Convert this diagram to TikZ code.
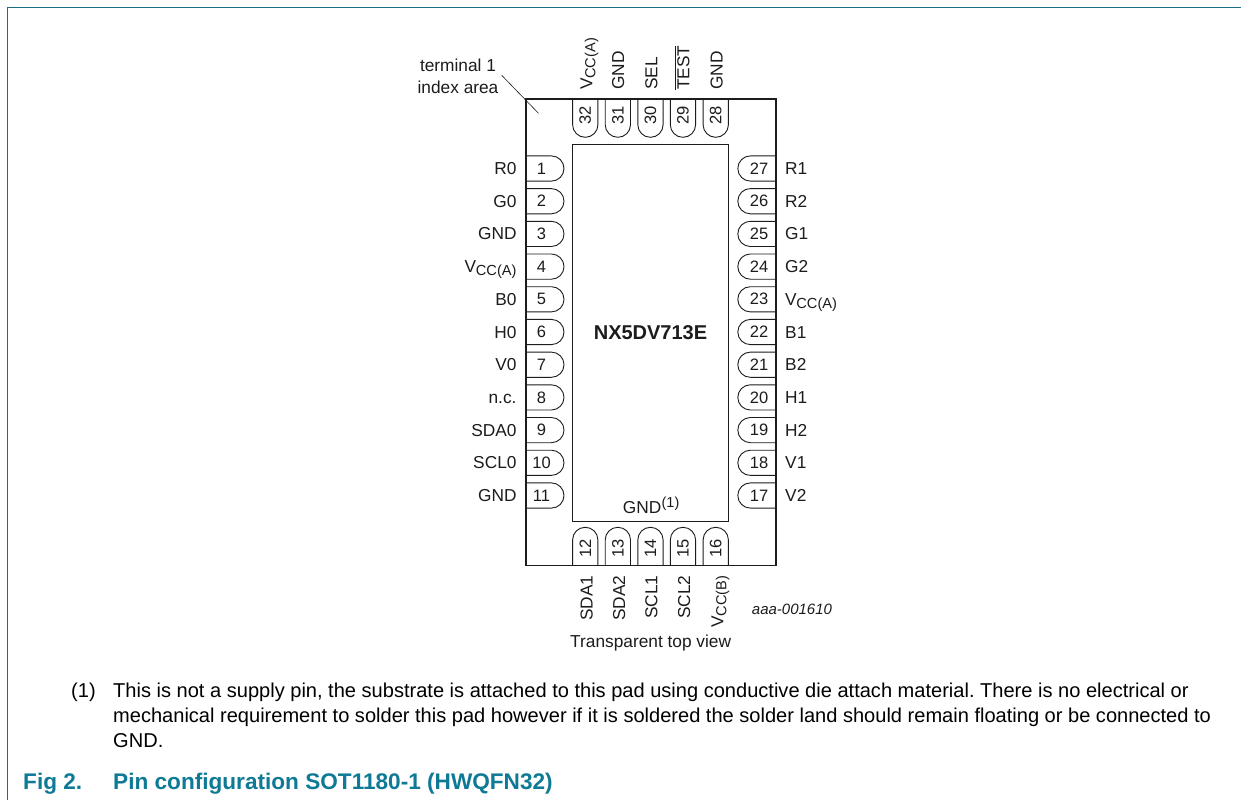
\documentclass[tikz,border=0pt]{standalone}
\usepackage{fontspec}
\setmainfont{Liberation Sans}
\definecolor{teal1}{HTML}{0F7A96}
\definecolor{frame1}{HTML}{1A6E85}
\definecolor{ink}{HTML}{1C1C1C}
\newcommand{\vcc}[1]{V\kern-0.3pt\raisebox{-3pt}{\fontsize{14.6}{15}\selectfont CC(#1)}}
\newcommand{\barred}[1]{\vbox{\hrule height 0.8pt\kern1.6pt\hbox{#1}}}
\tikzset{
 lab/.style={font=\fontsize{17.3}{20}\selectfont,text=ink,inner sep=0pt},
 leftlab/.style={lab,anchor=base east},
 rightlab/.style={lab,anchor=base west},
 toplab/.style={lab,rotate=90,anchor=base west},
 botlab/.style={lab,rotate=90,anchor=base east},
 num/.style={font=\fontsize{16.5}{18}\selectfont,text=ink,inner sep=0pt},
 body/.style={font=\fontsize{20.05}{24}\selectfont\frenchspacing,text=black,inner sep=0pt,anchor=base west},
 capt/.style={font=\fontsize{22.6}{26}\selectfont\bfseries,text=teal1,inner sep=0pt,anchor=base west},
 padline/.style={draw=ink,line width=0.9pt,rounded corners=12.6pt},
}
\begin{document}
\begin{tikzpicture}[x=1pt,y=-1pt]
\useasboundingbox (0,0) rectangle (1241,800);
\fill[white] (0,0) rectangle (1241,800);
\draw[frame1,line width=1pt] (7.5,800) -- (7.5,7.5) -- (1241,7.5);
% package and die
\draw[ink,line width=1.8pt] (525.7,99.3) rectangle (775.9,565.5);
\draw[ink,line width=0.9pt] (572.6,144) rectangle (728.8,521);
% index marker
\node[lab,align=center,font=\fontsize{17.3}{21.7}\selectfont] (idx) at (458,76.5) {terminal 1\\index area};
\coordinate (tail) at (501.7,75.3);
\coordinate (tip) at (538.5,113.3);
\draw[ink,line width=0.6pt] (tail) -- (tip);
% left pads
\foreach \n/\t in {1/R0,2/G0,3/GND,4/\vcc{A},5/B0,6/H0,7/V0,8/n.c.,9/SDA0,10/SCL0,11/GND}{
 \pgfmathsetmacro{\yy}{168.5+32.7*(\n-1)}
 \draw[padline] (526,\yy-12.6) -- (564,\yy-12.6) -- (564,\yy+12.6) -- (526,\yy+12.6);
 \node[num] (pl\n) at (541.5,\yy) {\n};
 \node[leftlab] (tl\n) at (516.7,\yy+6) {\t};
}
% right pads
\foreach \n/\i/\t in {27/0/R1,26/1/R2,25/2/G1,24/3/G2,23/4/\vcc{A},22/5/B1,21/6/B2,20/7/H1,19/8/H2,18/9/V1,17/10/V2}{
 \pgfmathsetmacro{\yy}{168.5+32.7*\i}
 \draw[padline] (776,\yy-12.6) -- (737.8,\yy-12.6) -- (737.8,\yy+12.6) -- (776,\yy+12.6);
 \node[num] (pr\n) at (759,\yy) {\n};
 \node[rightlab] (tr\n) at (785,\yy+6) {\t};
}
% top pads
\foreach \n/\xx/\b/\t in {32/572.6/592.3/\vcc{A},31/605.2/624/GND,30/637.8/657.3/SEL,29/670.3/689.3/\barred{TEST},28/703.1/722.7/GND}{
 \draw[padline] (\xx,99.5) -- (\xx,137.3) -- (\xx+25.3,137.3) -- (\xx+25.3,99.5);
 \node[num,rotate=90] (pt\n) at (\xx+12.7,115.6) {\n};
 \node[toplab] (tt\n) at (\b,90) {\t};
}
% bottom pads
\foreach \n/\xx/\b/\t in {12/572.6/592.7/SDA1,13/605.2/625/SDA2,14/637.8/657.3/SCL1,15/670.3/690/SCL2,16/703.1/723.3/\vcc{B}}{
 \draw[padline] (\xx,565.2) -- (\xx,527.3) -- (\xx+25.3,527.3) -- (\xx+25.3,565.2);
 \node[num,rotate=90] (pb\n) at (\xx+12.7,548.7) {\n};
 \node[botlab] (tb\n) at (\b,575.5) {\t};
}
% die labels
\node[font=\fontsize{20}{22}\selectfont\bfseries,text=ink,inner sep=0pt] (die) at (650.5,333) {NX5DV713E};
\node[lab,anchor=base west] (gnd) at (622.7,513) {GND\kern0.3pt\raisebox{5.5pt}{\fontsize{14.5}{15}\selectfont (1)}};
\node[lab,anchor=base west,font=\fontsize{15}{18}\selectfont\itshape] (code) at (751.7,614) {aaa-001610};
\node[lab,anchor=base west] (view) at (570,647) {Transparent top view};
% note
\node[body] (n1) at (71,697.3) {(1)};
\node[body] (l1) at (113,697.3) {This is not a supply pin, the substrate is attached to this pad using conductive die attach material. There is no electrical or};
\node[body] (l2) at (113,722.3) {mechanical requirement to solder this pad however if it is soldered the solder land should remain floating or be connected to};
\node[body] (l3) at (113,747.3) {GND.};
\node[capt] (c1) at (23,789) {Fig 2.};
\node[capt] (c2) at (113,789) {Pin configuration SOT1180-1 (HWQFN32)};
\end{tikzpicture}
\end{document}
